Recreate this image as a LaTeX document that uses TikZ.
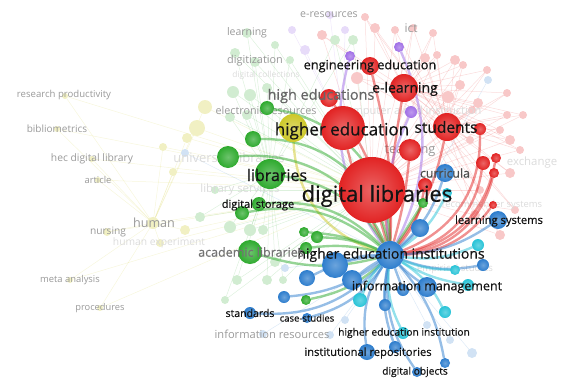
\documentclass[tikz,border=0pt]{standalone}
\usepackage{fontspec}
\setmainfont{Open Sans}
\newfontfamily\dick[FakeBold=0.6]{Open Sans}
\pgfdeclarelayer{hinten}
\pgfdeclarelayer{mitte}
\pgfdeclarelayer{kanten}
\pgfsetlayers{hinten,mitte,kanten,main}
\definecolor{rot}{RGB}{226,35,35}
\definecolor{gruen}{RGB}{46,170,46}
\definecolor{blau}{RGB}{45,125,205}
\definecolor{gelb}{RGB}{205,200,40}
\definecolor{lila}{RGB}{160,110,230}
\definecolor{tuerkis}{RGB}{40,195,215}
\newcommand{\schrift}[1]{\fontsize{#1}{#1}\selectfont}
\tikzstyle{knoten} = [circle, inner sep=0pt, outer sep=0pt, draw=none]
\tikzstyle{rotK} = [knoten, inner color=rot!70!white, outer color=rot]
\tikzstyle{gruenK} = [knoten, inner color=gruen!70!white, outer color=gruen]
\tikzstyle{blauK} = [knoten, inner color=blau!70!white, outer color=blau]
\tikzstyle{gelbK} = [knoten, inner color=gelb!70!white, outer color=gelb]
\tikzstyle{lilaK} = [knoten, inner color=lila!70!white, outer color=lila]
\tikzstyle{tuerkisK} = [knoten, inner color=tuerkis!70!white, outer color=tuerkis]
\tikzstyle{kante} = [line width=2.4pt, opacity=0.5]
\tikzstyle{blass} = [line width=0.5pt, opacity=0.16]
\tikzstyle{etikett} = [inner sep=0pt, text=black!92]
\tikzstyle{grau} = [inner sep=0pt, text=black!40]
\tikzstyle{hell} = [inner sep=0pt, text=black!14]
\begin{document}
\begin{tikzpicture}[x=1pt, y=-1pt]
		\useasboundingbox (0,0) rectangle (565,378);
		% rote Gruppe
		\node[rotK, minimum size=66pt] (dl) at (372,190) {};		% digital libraries
		\node[rotK, minimum size=44pt] (he) at (343,128) {};		% higher education
		\node[rotK, minimum size=28pt] (stud) at (447,127) {};
		\node[rotK, minimum size=28pt] (elearn) at (404,88) {};
		\node[rotK, minimum size=18pt] (engedu) at (370,66) {};
		\node[rotK, minimum size=18pt] (higheds) at (329,98) {};
		\node[rotK, minimum size=22pt] (teach) at (410,150) {};
		\node[rotK, minimum size=12pt] (r1) at (480,129) {};
		\node[rotK, minimum size=14pt] (r2) at (425,185) {};
		\node[rotK, minimum size=14pt] (r3) at (483,163) {};
		\node[rotK, minimum size=10pt] (r4) at (496,158) {};
		\node[rotK, minimum size=10pt] (r5) at (494,173) {};
		\node[rotK, minimum size=8pt] (r6) at (493,205) {};
		% lila und gelb
		\node[lilaK, minimum size=10pt] (p1) at (350,56) {};
		\node[lilaK, minimum size=10pt] (p2) at (399,47) {};
		\node[lilaK, minimum size=12pt] (p3) at (411,112) {};
		\node[gelbK, minimum size=28pt] (y1) at (293,128) {};
		% gruene Gruppe
		\node[gruenK, minimum size=30pt] (lib) at (270,174) {};		% libraries
		\node[gruenK, minimum size=22pt] (g1) at (228,157) {};
		\node[gruenK, minimum size=16pt] (g2) at (253,139) {};
		\node[gruenK, minimum size=14pt] (g3) at (267,108) {};
		\node[gruenK, minimum size=14pt] (g4) at (242,213) {};
		\node[gruenK, minimum size=14pt] (g5) at (259,204) {};
		\node[gruenK, minimum size=24pt] (acad) at (250,252) {};	% academic libraries
		\node[gruenK, minimum size=10pt] (g6) at (304,232) {};
		\node[gruenK, minimum size=12pt] (g7) at (317,237) {};
		\node[gruenK, minimum size=12pt] (g8) at (306,248) {};
		\node[gruenK, minimum size=10pt] (g9) at (306,300) {};
		\node[gruenK, minimum size=10pt] (g10) at (423,203) {};
		% blaue Gruppe
		\node[blauK, minimum size=28pt] (hei) at (390,255) {};		% higher education institutions
		\node[blauK, minimum size=26pt] (b1) at (335,265) {};
		\node[blauK, minimum size=20pt] (b2) at (352,280) {};
		\node[blauK, minimum size=16pt] (b3) at (307,278) {};
		\node[blauK, minimum size=12pt] (b4) at (284,297) {};
		\node[blauK, minimum size=20pt] (im) at (427,287) {};		% information management
		\node[blauK, minimum size=12pt] (b5) at (403,290) {};
		\node[blauK, minimum size=18pt] (b6) at (420,228) {};
		\node[blauK, minimum size=18pt] (curr) at (445,173) {};
		\node[blauK, minimum size=18pt] (ls) at (498,220) {};
		\node[blauK, minimum size=12pt] (b7) at (483,265) {};
		\node[blauK, minimum size=12pt] (b8) at (385,305) {};
		\node[blauK, minimum size=12pt] (std) at (250,313) {};
		\node[blauK, minimum size=10pt] (cs) at (307,318) {};
		\node[blauK, minimum size=16pt] (ir) at (367,352) {};
		\node[blauK, minimum size=12pt] (b9) at (395,347) {};
		\node[blauK, minimum size=10pt] (dobj) at (417,372) {};
		\node[blauK, minimum size=10pt] (b10) at (445,363) {};
		% tuerkis
		\node[tuerkisK, minimum size=10pt] (c1) at (447,193) {};
		\node[tuerkisK, minimum size=12pt] (c2) at (478,245) {};
		\node[tuerkisK, minimum size=10pt] (c3) at (455,270) {};
		\node[tuerkisK, minimum size=12pt] (c4) at (468,285) {};
		\node[tuerkisK, minimum size=12pt] (c5) at (445,312) {};
		\node[tuerkisK, minimum size=14pt] (c6) at (360,300) {};
		\node[tuerkisK, minimum size=12pt] (c7) at (403,333) {};

		% blasse Knoten im Hintergrund
		\begin{pgfonlayer}{mitte}
		\foreach \x/\y/\d [count=\i] in {365/17/8, 322/35/10, 375/28/10, 433/33/8, 437/55/8, 455/60/10, 463/65/8, 425/58/10, 487/70/8, 448/97/12, 478/103/10, 507/93/8, 523/115/8, 507/115/8, 510/140/10, 357/78/12, 500/130/8, 510/173/10, 472/110/8, 460/85/10, 395/30/8, 480/190/8, 475/215/10, 500/235/10, 470/140/8, 520/150/8, 515/210/8, 413/28/8}
			\node[knoten, fill=rot!25!white, minimum size=\d pt] (fr\i) at (\x,\y) {};
		\foreach \x/\y/\d [count=\i] in {247/33/10, 235/53/10, 255/62/10, 233/92/12, 250/95/12, 267/88/10, 230/117/10, 247/115/10, 353/40/10, 335/40/10, 200/217/10, 230/227/12, 250/230/12, 263/230/10, 237/280/10, 267/280/10, 283/280/8, 275/262/10, 215/190/8, 225/300/8, 290/60/8, 275/45/8}
			\node[knoten, fill=gruen!22!white, minimum size=\d pt] (fg\i) at (\x,\y) {};
		\foreach \x/\y/\d [count=\i] in {65/96/6, 57/129/6, 92/159/6, 98/180/6, 205/107/14, 197/128/16, 187/138/10, 163/147/8, 173/172/8, 185/230/10, 153/223/12, 160/243/8, 107/232/8, 70/280/6, 100/308/6}
			\node[knoten, fill=gelb!28!white, minimum size=\d pt] (fy\i) at (\x,\y) {};
		\foreach \x/\y/\d [count=\i] in {488/80/8, 472/353/10, 330/335/8, 427/325/8, 263/334/8, 285/268/8, 185/153/8, 450/340/8, 345/320/8}
			\node[knoten, fill=blau!22!white, minimum size=\d pt] (fb\i) at (\x,\y) {};
		\foreach \x/\y/\d [count=\i] in {305/50/10, 330/15/8, 345/30/8, 292/30/8}
			\node[knoten, fill=lila!25!white, minimum size=\d pt] (fp\i) at (\x,\y) {};
		% blasse Beschriftungen
		\node[grau, font=\schrift{9.6}] (t-rp) at (64,95) {research productivity};
		\node[grau, font=\schrift{10}] (t-bib) at (57,129) {bibliometrics};
		\node[grau, font=\schrift{10.3}] (t-hec) at (92,159) {hec digital library};
		\node[grau, font=\schrift{9.4}] (t-art) at (98,180) {article};
		\node[grau, font=\schrift{12.6}] (t-hum) at (154,223) {human};
		\node[grau, font=\schrift{10.2}] (t-nurs) at (108,232) {nursing};
		\node[hell, font=\schrift{10.3}] (t-hexp) at (159,243) {human experiment};
		\node[grau, font=\schrift{9.4}] (t-meta) at (70,280) {meta analysis};
		\node[grau, font=\schrift{9.3}] (t-proc) at (100,308) {procedures};
		\node[grau, font=\schrift{10.5}] (t-learn) at (247,33) {learning};
		\node[grau, font=\schrift{10.9}] (t-digit) at (255,61) {digitization};
		\node[hell, font=\schrift{8.4}] (t-dcoll) at (266,75) {digital collections};
		\node[grau, font=\schrift{10.8}] (t-eres) at (266,110) {electronic resources};
		\node[grau, font=\schrift{10.6}] (t-eres2) at (329,15) {e-resources};
		\node[grau, font=\schrift{12}] (t-ict) at (411,28) {ict};
		\node[hell, font=\schrift{11.1}] (t-cai) at (411,112) {computer aided instruction};
		\node[grau, font=\schrift{12.8}] (t-teach) at (410,150) {teaching};
		\node[hell, font=\schrift{9.4}] (t-rec) at (492,205) {recommender systems};
		\node[hell, font=\schrift{9.6}] (t-emp) at (455,269) {empirical studies};
		\node[hell, font=\schrift{11.4}] (t-exch) at (532,163) {exchange};
		\node[hell, font=\schrift{13}] (t-ulib) at (229,159) {university libraries};
		\node[hell, font=\schrift{11.4}] (t-lserv) at (240,190) {library services};
		\node[grau, font=\schrift{11.1}] (t-ires) at (272,334) {information resources};
		\end{pgfonlayer}

		% blasse Kanten
		\begin{pgfonlayer}{hinten}
		\foreach \i in {1,...,28} {\draw[blass, rot] (fr\i) -- (dl); \draw[blass, rot] (fr\i) -- (stud); \draw[blass, rot] (fr\i) -- (elearn);}
		\foreach \i in {1,...,22} {\draw[blass, gruen] (fg\i) -- (dl); \draw[blass, gruen] (fg\i) -- (lib);}
		\foreach \i in {1,...,15} {\draw[blass, gelb] (fy\i) -- (dl); \draw[blass, gelb] (fy\i) -- (fy11);}
		\foreach \i in {1,...,9} \draw[blass, blau] (fb\i) -- (hei);
		\foreach \i in {1,...,4} \draw[blass, lila] (fp\i) -- (he);
		\end{pgfonlayer}

		% Kanten zum Knoten higher education institutions
		\begin{pgfonlayer}{kanten}
		\foreach \n/\f/\b in {dl/rot/0, he/rot/-8, stud/rot/12, elearn/rot/-5, engedu/rot/8, higheds/rot/15, teach/rot/5, r1/rot/35, r2/rot/15, r3/rot/35, r4/rot/35, r5/rot/35, r6/rot/25, p1/lila/-25, p2/lila/25, p3/lila/-15, y1/gelb/-35, lib/gruen/25, g1/gruen/35, g2/gruen/40, g3/gruen/40, g4/gruen/25, g5/gruen/25, acad/gruen/-15, g6/gruen/10, g7/gruen/10, g8/gruen/10, g9/gruen/-15, g10/gruen/0, b1/blau/10, b2/blau/5, b3/blau/10, b4/blau/-15, im/blau/5, b5/blau/0, b6/blau/5, curr/blau/15, ls/blau/15, b7/blau/15, b8/blau/5, std/blau/-25, cs/blau/-20, ir/blau/20, b9/blau/15, dobj/blau/20, b10/blau/-15, c1/tuerkis/15, c2/tuerkis/15, c3/tuerkis/10, c4/tuerkis/10, c5/tuerkis/-15, c6/tuerkis/10, c7/tuerkis/15}
			\draw[kante, draw=\f] (\n) to[bend left=\b] (hei);
		\end{pgfonlayer}

		% Beschriftungen
		\node[etikett, font=\dick\schrift{22}] (t-dl) at (377,196) {digital libraries};
		\node[etikett, font=\dick\schrift{17}] (t-he) at (342,131) {higher education};
		\node[etikett, font=\dick\schrift{14}] (t-hei) at (391,255) {higher education institutions};
		\node[etikett, font=\dick\schrift{15.5}] (t-stud) at (446,127) {students};
		\node[etikett, font=\dick\schrift{12.5}] (t-im) at (427,287) {information management};
		\node[etikett, font=\dick\schrift{16}] (t-lib) at (277,175) {libraries};
		\node[etikett, font=\dick\schrift{11.2}] (t-ls) at (499,221) {learning systems};
		\node[etikett, font=\dick\schrift{11}] (t-ds) at (258,205) {digital storage};
		\node[etikett, text=black!55, font=\dick\schrift{12.5}] (t-acad) at (251,252) {academic libraries};
		\node[etikett, font=\dick\schrift{14}] (t-elearn) at (405,89) {e-learning};
		\node[etikett, font=\dick\schrift{12.7}] (t-engedu) at (370,66) {engineering education};
		\node[etikett, text=black!60, font=\dick\schrift{14.4}] (t-higheds) at (321,96) {high educations};
		\node[etikett, text=black!70, font=\dick\schrift{12.3}] (t-curr) at (445,173) {curricula};
		\node[etikett, font=\dick\schrift{10.5}] (t-std) at (250,313) {standards};
		\node[etikett, font=\dick\schrift{9.5}] (t-cs) at (307,318) {case-studies};
		\node[etikett, font=\dick\schrift{10.2}] (t-hei2) at (404,333) {higher education institution};
		\node[etikett, font=\dick\schrift{11.2}] (t-ir) at (368,353) {institutional repositories};
		\node[etikett, font=\dick\schrift{10.2}] (t-dobj) at (415,372) {digital objects};
\end{tikzpicture}
\end{document}
